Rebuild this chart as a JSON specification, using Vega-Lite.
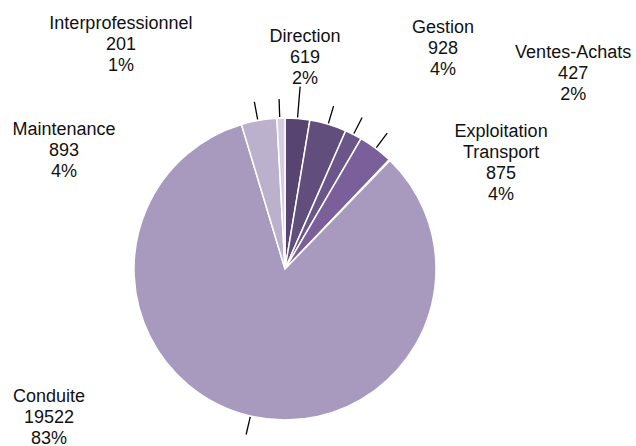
{
  "$schema": "https://vega.github.io/schema/vega-lite/v6.json",
  "width": 570,
  "height": 354,
  "padding": {"left": 0, "top": 92, "right": 66, "bottom": 0},
  "autosize": {"type": "none"},
  "background": "white",
  "view": {"stroke": null},
  "data": {
    "values": [
      {"cat": "Direction", "value": 619, "label": "Direction\n619\n2%", "ord": 1},
      {"cat": "Gestion", "value": 928, "label": "Gestion\n928\n4%", "ord": 2},
      {"cat": "Ventes-Achats", "value": 427, "label": "Ventes-Achats\n427\n2%", "ord": 3},
      {"cat": "Exploitation Transport", "value": 875, "label": "Exploitation\nTransport\n875\n4%", "ord": 4},
      {"cat": "Autre", "value": 25, "label": "", "ord": 5},
      {"cat": "Conduite", "value": 19522, "label": "Conduite\n19522\n83%", "ord": 6},
      {"cat": "Maintenance", "value": 893, "label": "Maintenance\n893\n4%", "ord": 7},
      {"cat": "Interprofessionnel", "value": 201, "label": "Interprofessionnel\n201\n1%", "ord": 8}
    ]
  },
  "layer": [
    {
      "mark": {"type": "arc", "radius": 151, "stroke": "white", "strokeWidth": 1.5},
      "encoding": {
        "theta": {"field": "value", "type": "quantitative", "stack": true},
        "order": {"field": "ord", "type": "quantitative"},
        "color": {
          "field": "cat",
          "type": "nominal",
          "legend": null,
          "scale": {
            "domain": ["Direction", "Gestion", "Ventes-Achats", "Exploitation Transport", "Autre", "Conduite", "Maintenance", "Interprofessionnel"],
            "range": ["#574470", "#624e7d", "#6c5689", "#7a5f9a", "#b3a7c8", "#a899bf", "#bbb1cd", "#d4cde1"]
          }
        }
      }
    },
    {
      "transform": [
        {"filter": "datum.cat !== 'Autre'"},
        {"stack": "value", "groupby": [], "sort": [{"field": "ord", "order": "ascending"}], "as": ["s0", "s1"]}
      ],
      "mark": {
        "type": "arc",
        "fill": null,
        "stroke": "black",
        "strokeWidth": 1.3,
        "theta": {"expr": "PI*(datum.s0+datum.s1)/23495"},
        "theta2": {"expr": "PI*(datum.s0+datum.s1)/23495"},
        "radius2": 152,
        "radius": {"expr": "datum.cat === 'Direction' ? 183 : 170"}
      },
      "encoding": {}
    },
    {
      "mark": {
        "type": "text",
        "lineBreak": "\n",
        "font": "Liberation Sans",
        "fontSize": 18,
        "lineHeight": 21,
        "align": "center",
        "baseline": "middle",
        "color": "#111111",
        "radius": {"expr": "datum.cat === 'Interprofessionnel' ? 295 : datum.cat === 'Direction' ? 233 : datum.cat === 'Gestion' ? 288 : datum.cat === 'Ventes-Achats' ? 360 : datum.cat === 'Exploitation Transport' ? 256 : datum.cat === 'Maintenance' ? 261 : datum.cat === 'Conduite' ? 268.5 : 0"},
        "thetaOffset": {"expr": "datum.cat === 'Interprofessionnel' ? -0.563 : datum.cat === 'Direction' ? 0.003 : datum.cat === 'Gestion' ? 0.291 : datum.cat === 'Ventes-Achats' ? 0.457 : datum.cat === 'Exploitation Transport' ? 0.360 : datum.cat === 'Maintenance' ? -0.836 : datum.cat === 'Conduite' ? 0.835 : 0"}
      },
      "encoding": {
        "theta": {"field": "value", "type": "quantitative", "stack": true},
        "order": {"field": "ord", "type": "quantitative"},
        "text": {"field": "label", "type": "nominal"}
      }
    }
  ]
}
